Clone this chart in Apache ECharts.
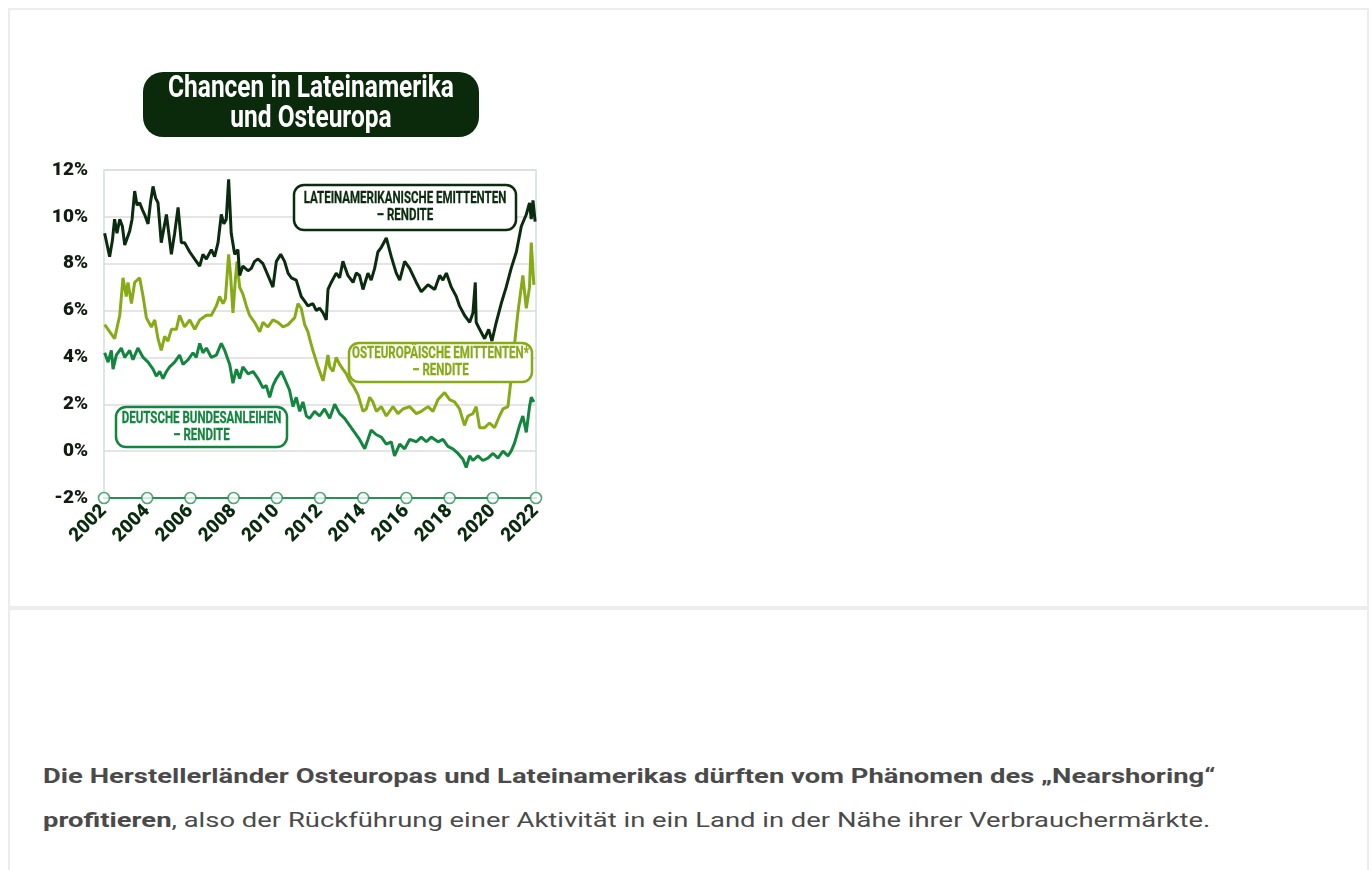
<!DOCTYPE html>
<html>
<head>
<meta charset="utf-8">
<script src="https://cdn.jsdelivr.net/npm/echarts@6/dist/echarts.min.js"></script>
<style>
  html, body { margin: 0; padding: 0; background: #fff; }
  body { width: 1372px; height: 870px; position: relative; overflow: hidden; }
  #frame { position: absolute; left: 8px; top: 8px; width: 1361px; height: 900px; border: 2px solid #ececec; border-bottom: none; box-sizing: border-box; }
  #sep { position: absolute; left: 8px; top: 606px; width: 1361px; height: 4px; background: #ececec; }
  #chart { position: absolute; left: 0; top: 0; width: 600px; height: 600px; }
  #text { position: absolute; left: 43px; top: 754px; width: 1000px; white-space: nowrap; font-family: Roboto, "Liberation Sans", sans-serif; font-size: 21px; line-height: 44px; color: #4a4a4a; transform: scaleX(1.305); transform-origin: 0 0; }
  #text b { font-weight: 700; }
</style>
</head>
<body>
<div id="frame"></div>
<div id="sep"></div>
<div id="chart"></div>
<div id="text"><b>Die Herstellerländer Osteuropas und Lateinamerikas dürften vom Phänomen des „Nearshoring“</b><br><b>profitieren</b>, also der Rückführung einer Aktivität in ein Land in der Nähe ihrer Verbrauchermärkte.</div>
<script>
// ---- data ----
const titleLines = ["Chancen in Lateinamerika", "und Osteuropa"];
const yTicks = [-2, 0, 2, 4, 6, 8, 10, 12];
const tickYears = [2002, 2004, 2006, 2008, 2010, 2012, 2014, 2016, 2018, 2020, 2022];

const latamData = [
  [2002.03,9.3],[2002.26,8.3],[2002.39,9.0],[2002.49,9.9],[2002.60,9.3],[2002.73,9.9],[2002.85,9.6],[2002.96,8.8],
  [2003.19,9.4],[2003.30,9.9],[2003.42,11.1],[2003.53,10.5],[2003.65,10.6],[2003.78,10.3],[2003.88,10.1],[2004.04,9.7],
  [2004.15,10.6],[2004.27,11.3],[2004.39,10.8],[2004.50,10.6],[2004.65,8.9],[2004.89,10.1],[2005.12,8.4],[2005.27,9.3],
  [2005.43,10.4],[2005.58,8.9],[2005.73,8.9],[2005.97,8.5],[2006.20,8.2],[2006.43,7.9],[2006.58,8.4],[2006.74,8.2],
  [2006.97,8.6],[2007.12,8.3],[2007.28,8.9],[2007.43,10.1],[2007.55,9.7],[2007.66,9.9],[2007.77,11.6],[2007.89,9.3],
  [2008.05,8.4],[2008.20,8.6],[2008.28,7.5],[2008.43,7.9],[2008.67,7.7],[2008.82,7.8],[2008.97,8.1],[2009.13,8.2],
  [2009.36,8.0],[2009.59,7.5],[2009.82,7.0],[2009.98,8.1],[2010.18,8.4],[2010.36,8.1],[2010.52,7.6],[2010.67,7.4],
  [2010.90,7.3],[2011.13,6.6],[2011.29,6.4],[2011.44,6.2],[2011.67,6.3],[2011.83,6.0],[2011.98,6.1],[2012.14,5.9],
  [2012.29,5.6],[2012.37,6.9],[2012.52,7.2],[2012.75,7.6],[2012.91,7.4],[2013.06,8.1],[2013.29,7.5],[2013.53,7.2],
  [2013.68,7.6],[2013.83,7.5],[2013.99,6.9],[2014.22,7.6],[2014.37,7.3],[2014.53,7.8],[2014.68,8.5],[2014.84,8.7],
  [2015.07,9.1],[2015.30,8.3],[2015.53,7.6],[2015.69,7.3],[2015.92,8.1],[2016.15,7.8],[2016.46,7.2],[2016.69,6.8],
  [2017.00,7.1],[2017.31,6.9],[2017.54,7.5],[2017.69,7.3],[2017.85,7.6],[2018.08,7.0],[2018.31,6.6],[2018.46,6.2],
  [2018.69,5.8],[2018.93,5.5],[2019.08,5.9],[2019.19,7.2],[2019.23,5.5],[2019.39,5.2],[2019.62,4.8],[2019.81,5.2],
  [2019.96,4.7],[2020.16,5.5],[2020.39,6.3],[2020.62,7.0],[2020.85,7.8],[2021.09,8.5],[2021.32,9.6],[2021.55,10.1],
  [2021.70,10.6],[2021.78,9.9],[2021.86,10.7],[2021.96,9.8]
];

const eeData = [
  [2002.03,5.4],[2002.26,5.1],[2002.49,4.8],[2002.73,5.8],[2002.88,7.4],[2003.03,6.6],[2003.11,7.2],[2003.27,6.3],
  [2003.42,7.2],[2003.65,7.4],[2003.81,6.6],[2003.96,5.7],[2004.19,5.3],[2004.35,5.6],[2004.50,4.8],[2004.65,4.3],
  [2004.81,4.9],[2004.96,4.7],[2005.12,5.2],[2005.35,5.2],[2005.50,5.8],[2005.73,5.3],[2005.97,5.6],[2006.20,5.2],
  [2006.43,5.6],[2006.74,5.8],[2006.97,5.8],[2007.20,6.2],[2007.35,6.6],[2007.51,6.3],[2007.62,6.5],[2007.77,8.4],
  [2007.86,7.5],[2007.97,5.9],[2008.08,7.3],[2008.16,8.1],[2008.28,7.0],[2008.43,6.7],[2008.59,6.2],[2008.74,5.8],
  [2008.97,5.5],[2009.21,5.1],[2009.36,5.5],[2009.59,5.3],[2009.82,5.6],[2010.05,5.5],[2010.29,5.3],[2010.52,5.4],
  [2010.83,5.7],[2010.98,6.3],[2011.13,6.1],[2011.29,5.4],[2011.44,5.1],[2011.52,4.8],[2011.67,4.3],[2011.91,3.6],
  [2012.14,3.0],[2012.29,3.7],[2012.37,4.1],[2012.45,3.6],[2012.60,3.4],[2012.75,4.0],[2012.91,3.7],[2013.06,3.5],
  [2013.22,3.3],[2013.37,3.0],[2013.53,2.8],[2013.76,2.4],[2013.99,1.7],[2014.14,1.8],[2014.30,2.3],[2014.45,2.1],
  [2014.61,1.7],[2014.84,1.9],[2015.07,1.5],[2015.38,1.9],[2015.61,1.6],[2015.84,1.8],[2016.15,1.9],[2016.46,1.6],
  [2016.69,1.7],[2017.00,1.9],[2017.23,1.7],[2017.46,2.2],[2017.77,2.5],[2018.00,2.2],[2018.23,2.1],[2018.46,1.8],
  [2018.69,1.1],[2018.85,1.5],[2019.08,1.6],[2019.23,1.9],[2019.39,1.0],[2019.62,1.0],[2019.85,1.2],[2020.08,1.0],
  [2020.31,1.5],[2020.47,1.8],[2020.70,1.9],[2020.85,3.1],[2021.01,4.6],[2021.16,5.9],[2021.39,7.5],[2021.55,6.1],
  [2021.70,7.0],[2021.78,8.9],[2021.90,7.1]
];

const bundData = [
  [2002.03,4.2],[2002.19,3.8],[2002.34,4.3],[2002.42,3.5],[2002.57,4.1],[2002.80,4.4],[2002.96,4.0],[2003.19,4.3],
  [2003.34,3.9],[2003.57,4.4],[2003.81,4.0],[2004.04,3.8],[2004.27,3.5],[2004.42,3.2],[2004.58,3.4],[2004.73,3.1],
  [2004.89,3.4],[2005.04,3.6],[2005.27,3.8],[2005.50,4.1],[2005.66,3.7],[2005.89,3.9],[2006.12,4.2],[2006.27,4.0],
  [2006.43,4.6],[2006.58,4.2],[2006.74,4.4],[2006.97,4.0],[2007.20,4.1],[2007.43,4.6],[2007.59,4.3],[2007.82,3.7],
  [2007.97,2.9],[2008.13,3.5],[2008.28,3.1],[2008.43,3.6],[2008.67,3.3],[2008.90,3.4],[2009.13,3.1],[2009.36,2.7],
  [2009.51,2.8],[2009.67,2.3],[2009.82,2.8],[2009.98,3.1],[2010.21,3.4],[2010.36,3.1],[2010.59,2.6],[2010.75,1.9],
  [2010.90,2.3],[2011.06,1.7],[2011.21,2.1],[2011.37,1.5],[2011.52,1.4],[2011.75,1.7],[2011.98,1.5],[2012.21,1.8],
  [2012.45,1.4],[2012.68,2.0],[2012.91,1.6],[2013.14,1.4],[2013.37,1.1],[2013.60,0.8],[2013.83,0.5],[2014.07,0.1],
  [2014.22,0.5],[2014.37,0.9],[2014.61,0.7],[2014.84,0.6],[2015.07,0.3],[2015.30,0.4],[2015.45,-0.2],[2015.69,0.3],
  [2015.92,0.1],[2016.15,0.5],[2016.46,0.4],[2016.69,0.6],[2016.92,0.4],[2017.15,0.6],[2017.46,0.4],[2017.69,0.5],
  [2017.92,0.2],[2018.15,0.1],[2018.39,-0.1],[2018.62,-0.35],[2018.77,-0.7],[2018.93,-0.2],[2019.08,-0.4],[2019.31,-0.2],
  [2019.54,-0.4],[2019.77,-0.3],[2020.01,-0.1],[2020.24,-0.3],[2020.47,0.0],[2020.70,-0.2],[2020.85,0.0],[2021.01,0.35],
  [2021.24,1.1],[2021.39,1.5],[2021.55,0.8],[2021.70,1.9],[2021.78,2.3],[2021.90,2.1]
];

const seriesNames = ["LATEINAMERIKANISCHE EMITTENTEN", "OSTEUROPÄISCHE EMITTENTEN*", "DEUTSCHE BUNDESANLEIHEN"];
const subLabel = "– RENDITE";

// ---- styles ----
const FONT = "Roboto,'Liberation Sans',sans-serif";
const cDark = '#0b2b0f', cLime = '#87aa17', cGreen = '#14853f', cAxis = '#2a8f55';

const chart = echarts.init(document.getElementById('chart'));

function box(x, y, w, h, color, l1, l2) {
  const t = (txt, yy) => ({ type: 'text', z: 101, x: x + w / 2, y: yy, scaleX: 0.72,
      style: { text: txt, fill: color, stroke: color, lineWidth: 0.3, font: "bold 16px " + FONT, align: 'center', verticalAlign: 'middle' } });
  return [
    { type: 'rect', z: 100, shape: { x: x, y: y, width: w, height: h, r: 10 },
      style: { fill: '#fff', stroke: color, lineWidth: 2.5 } },
    t(l1, y + h / 2 - 8.5), t(l2, y + h / 2 + 8.5)
  ];
}

chart.setOption({
  animation: false,
  grid: { left: 104, top: 170, width: 432, height: 328, show: true, borderColor: '#d3e0e0', borderWidth: 1.5 },
  xAxis: {
    type: 'value', min: 2002, max: 2022, interval: 2,
    axisLine: { show: true, onZero: false, lineStyle: { color: cAxis, width: 2 } },
    axisTick: { show: false },
    splitLine: { show: false },
    axisLabel: { rotate: 45, margin: 10, color: cDark, fontFamily: FONT, fontWeight: 900, fontSize: 19,
                 formatter: v => String(v) }
  },
  yAxis: {
    type: 'value', min: -2, max: 12, interval: 2,
    axisLine: { show: false }, axisTick: { show: false },
    splitLine: { show: true, lineStyle: { color: '#dcdcdc', width: 1.5 } },
    axisLabel: { formatter: '{value}%', margin: 16, color: '#121c13', fontFamily: FONT, fontWeight: 900, fontSize: 19 }
  },
  series: [
    { name: seriesNames[2], type: 'line', data: bundData, showSymbol: false, lineStyle: { color: cGreen, width: 3 }, z: 3 },
    { name: seriesNames[1], type: 'line', data: eeData, showSymbol: false, lineStyle: { color: cLime, width: 3 }, z: 4 },
    { name: seriesNames[0], type: 'line', data: latamData, showSymbol: false, lineStyle: { color: cDark, width: 3 }, z: 5 },
    { type: 'scatter', data: tickYears.map(y => [y, yTicks[0]]), symbol: 'circle', symbolSize: 11, clip: false, z: 6,
      itemStyle: { color: '#fff', borderColor: cAxis, borderWidth: 1.6 } }
  ],
  graphic: [
    { type: 'rect', z: 100, shape: { x: 143, y: 72, width: 336, height: 65, r: 20 }, style: { fill: '#0b2a0c' } },
    { type: 'text', z: 101, x: 311, y: 89, scaleX: 0.79, style: { text: titleLines[0], fill: '#fff', font: "bold 31px " + FONT, align: 'center', verticalAlign: 'middle' } },
    { type: 'text', z: 101, x: 311, y: 119, scaleX: 0.79, style: { text: titleLines[1], fill: '#fff', font: "bold 31px " + FONT, align: 'center', verticalAlign: 'middle' } },
    ...box(294, 185, 222, 45, cDark, seriesNames[0], subLabel),
    ...box(349, 343, 183, 39, cLime, seriesNames[1], subLabel),
    ...box(116, 407, 171, 40, cGreen, seriesNames[2], subLabel)
  ]
});
</script>
</body>
</html>
